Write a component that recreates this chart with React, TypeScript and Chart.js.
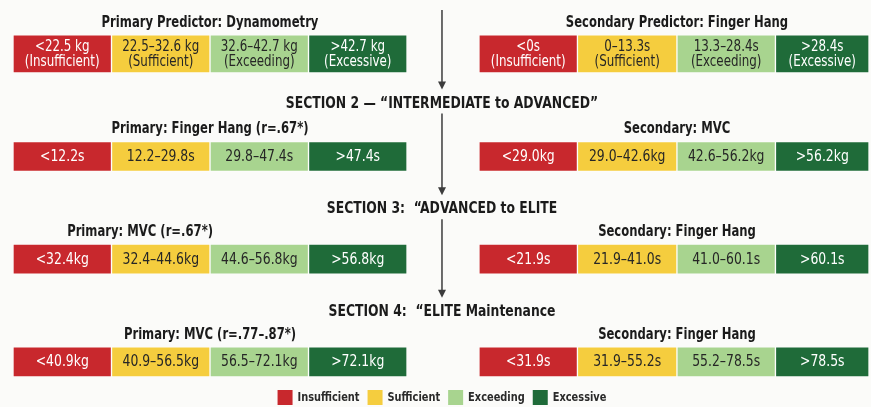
import React, { useEffect, useRef } from 'react';
import { Chart, registerables } from 'chart.js';

Chart.register(...registerables);

// ---------- data ----------
const categories = ['Insufficient', 'Sufficient', 'Exceeding', 'Excessive'];

const sectionTitles = [
  '',
  'SECTION 2 \u2014 \u201CINTERMEDIATE to ADVANCED\u201D',
  'SECTION 3:  \u201CADVANCED to ELITE',
  'SECTION 4:  \u201CELITE Maintenance',
];

const primaryTitles = [
  'Primary Predictor: Dynamometry',
  'Primary: Finger Hang (r=.67*)',
  'Primary: MVC (r=.67*)',
  'Primary: MVC (r=.77\u2013.87*)',
];

const secondaryTitles = [
  'Secondary Predictor: Finger Hang',
  'Secondary: MVC',
  'Secondary: Finger Hang',
  'Secondary: Finger Hang',
];

const primaryRanges = [
  ['<22.5 kg', '22.5\u201332.6 kg', '32.6\u201342.7 kg', '>42.7 kg'],
  ['<12.2s', '12.2\u201329.8s', '29.8\u201347.4s', '>47.4s'],
  ['<32.4kg', '32.4\u201344.6kg', '44.6\u201356.8kg', '>56.8kg'],
  ['<40.9kg', '40.9\u201356.5kg', '56.5\u201372.1kg', '>72.1kg'],
];

const secondaryRanges = [
  ['<0s', '0\u201313.3s', '13.3\u201328.4s', '>28.4s'],
  ['<29.0kg', '29.0\u201342.6kg', '42.6\u201356.2kg', '>56.2kg'],
  ['<21.9s', '21.9\u201341.0s', '41.0\u201360.1s', '>60.1s'],
  ['<31.9s', '31.9\u201355.2s', '55.2\u201378.5s', '>78.5s'],
];

// ---------- layout & style ----------
const COLORS = ['#C8282D', '#F5CD3E', '#A8D48F', '#1F6B39'];
const TEXT_COLORS = ['#ffffff', '#262626', '#262626', '#ffffff'];
const LEFT_EDGES = [0, 1, 2, 3, 4];
const RIGHT_EDGES = [4.73, 5.73, 6.74, 7.74, 8.69];
const FONT = "'Liberation Sans Narrow', 'DejaVu Sans Condensed', 'Roboto Condensed', Roboto, sans-serif";
const BG = '#fbfbf9';
const TOP_THICK = 38;
const ROW_THICK = 30;
const HEADING_GAP = [0, 38, 35, 35];

function buildDatasets() {
  const sets: any[] = [];
  const groups = [[0], [1, 2, 3]];
  groups.forEach((rows, g) => {
    categories.forEach((cat, c) => {
      const data: any[] = [];
      rows.forEach((r) => {
        data.push({ y: r, x: [LEFT_EDGES[c], LEFT_EDGES[c + 1]], text: primaryRanges[r][c], sub: r === 0 ? '(' + cat + ')' : null });
        data.push({ y: r, x: [RIGHT_EDGES[c], RIGHT_EDGES[c + 1]], text: secondaryRanges[r][c], sub: r === 0 ? '(' + cat + ')' : null });
      });
      sets.push({
        label: cat,
        cat: c,
        data,
        backgroundColor: COLORS[c],
        borderColor: 'rgba(255,255,255,0.55)',
        borderWidth: 1,
        borderSkipped: false,
        grouped: false,
        barThickness: g === 0 ? TOP_THICK : ROW_THICK,
      });
    });
  });
  return sets;
}

function drawText(ctx: any, text: string, x: number, y: number, sx: number) {
  ctx.save();
  ctx.translate(x, y);
  ctx.scale(sx, 1);
  ctx.fillText(text, 0, 0);
  ctx.restore();
}

const bgPlugin = {
  id: 'bg',
  beforeDraw(chart: any) {
    const { ctx, width, height } = chart;
    ctx.save();
    ctx.fillStyle = BG;
    ctx.fillRect(0, 0, width, height);
    ctx.restore();
  },
};

const textPlugin = {
  id: 'texts',
  afterDatasetsDraw(chart: any) {
    const ctx = chart.ctx;
    const xs = chart.scales.x;
    const ys = chart.scales.y;
    ctx.save();
    ctx.textAlign = 'center';
    ctx.textBaseline = 'middle';

    // labels inside bars
    chart.data.datasets.forEach((ds: any, di: number) => {
      const meta = chart.getDatasetMeta(di);
      meta.data.forEach((el: any, i: number) => {
        const raw = ds.data[i];
        const cx = (el.x + el.base) / 2;
        const cy = el.y;
        ctx.fillStyle = TEXT_COLORS[ds.cat];
        ctx.font = `15px ${FONT}`;
        if (raw.sub) {
          drawText(ctx, raw.text, cx, cy - 7, 0.88);
          drawText(ctx, raw.sub, cx, cy + 8, 0.88);
        } else {
          drawText(ctx, raw.text, cx, cy + 0.5, 0.92);
        }
      });
    });

    const gapX = xs.getPixelForValue((LEFT_EDGES[4] + RIGHT_EDGES[0]) / 2) - 1;
    const headingY: number[] = [];
    ctx.fillStyle = '#1b1b1b';
    for (let r = 0; r < 4; r++) {
      const th = r === 0 ? TOP_THICK : ROW_THICK;
      const top = ys.getPixelForValue(r) - th / 2;
      const ty = top - 12;
      ctx.font = `bold 15px ${FONT}`;
      const pAnchor = r === 2 ? 1.29 : (LEFT_EDGES[0] + LEFT_EDGES[4]) / 2;
      drawText(ctx, primaryTitles[r], xs.getPixelForValue(pAnchor), ty, 0.86);
      drawText(ctx, secondaryTitles[r], xs.getPixelForValue((RIGHT_EDGES[0] + RIGHT_EDGES[4]) / 2) + 3, ty, 0.86);
      if (sectionTitles[r]) {
        const hy = top - HEADING_GAP[r];
        headingY[r] = hy;
        ctx.font = `bold 16px ${FONT}`;
        drawText(ctx, sectionTitles[r], gapX, hy, 0.86);
      }
    }

    // arrows
    ctx.strokeStyle = '#3c3c3c';
    ctx.fillStyle = '#3c3c3c';
    ctx.lineWidth = 1.5;
    for (let k = 1; k < 4; k++) {
      const y0 = k === 1 ? 10 : headingY[k - 1] + 10;
      const tip = headingY[k] - 14;
      ctx.beginPath();
      ctx.moveTo(gapX, y0);
      ctx.lineTo(gapX, tip - 6);
      ctx.stroke();
      ctx.beginPath();
      ctx.moveTo(gapX - 4, tip - 8);
      ctx.lineTo(gapX + 4, tip - 8);
      ctx.lineTo(gapX, tip);
      ctx.closePath();
      ctx.fill();
    }

    // legend
    ctx.font = `bold 13px ${FONT}`;
    const lsx = 0.84;
    const box = 15, gap = 5, spacing = 8;
    const widths = categories.map((c) => box + gap + ctx.measureText(c).width * lsx);
    const total = widths.reduce((a, b) => a + b, 0) + spacing * (categories.length - 1);
    let lx = gapX - total / 2;
    const ly = 397.5;
    ctx.textAlign = 'left';
    categories.forEach((c, i) => {
      ctx.fillStyle = COLORS[i];
      ctx.fillRect(lx, ly - box / 2, box, box);
      ctx.fillStyle = '#2a2a2a';
      drawText(ctx, c, lx + box + gap, ly + 0.5, lsx);
      lx += widths[i] + spacing;
    });
    ctx.restore();
  },
};

export default function App() {
  const ref = useRef<HTMLCanvasElement | null>(null);
  useEffect(() => {
    if (!ref.current) return;
    const chart = new Chart(ref.current, {
      type: 'bar',
      data: { datasets: buildDatasets() },
      options: {
        indexAxis: 'y',
        animation: false,
        responsive: false,
        events: [],
        layout: { padding: { left: 13, right: 0, top: 0, bottom: 0 } },
        scales: {
          x: { type: 'linear', min: 0, max: 8.71, display: false, offset: false },
          y: { type: 'linear', min: -0.525, max: 3.44, reverse: true, display: false, offset: false },
        },
        plugins: { legend: { display: false }, tooltip: { enabled: false } },
      },
      plugins: [bgPlugin, textPlugin],
    } as any);
    return () => chart.destroy();
  }, []);
  return (
    <div style={{ position: 'fixed', left: 0, top: 0, width: 871, height: 407, background: BG }}>
      <canvas ref={ref} width={871} height={407} style={{ display: 'block' }} />
    </div>
  );
}
